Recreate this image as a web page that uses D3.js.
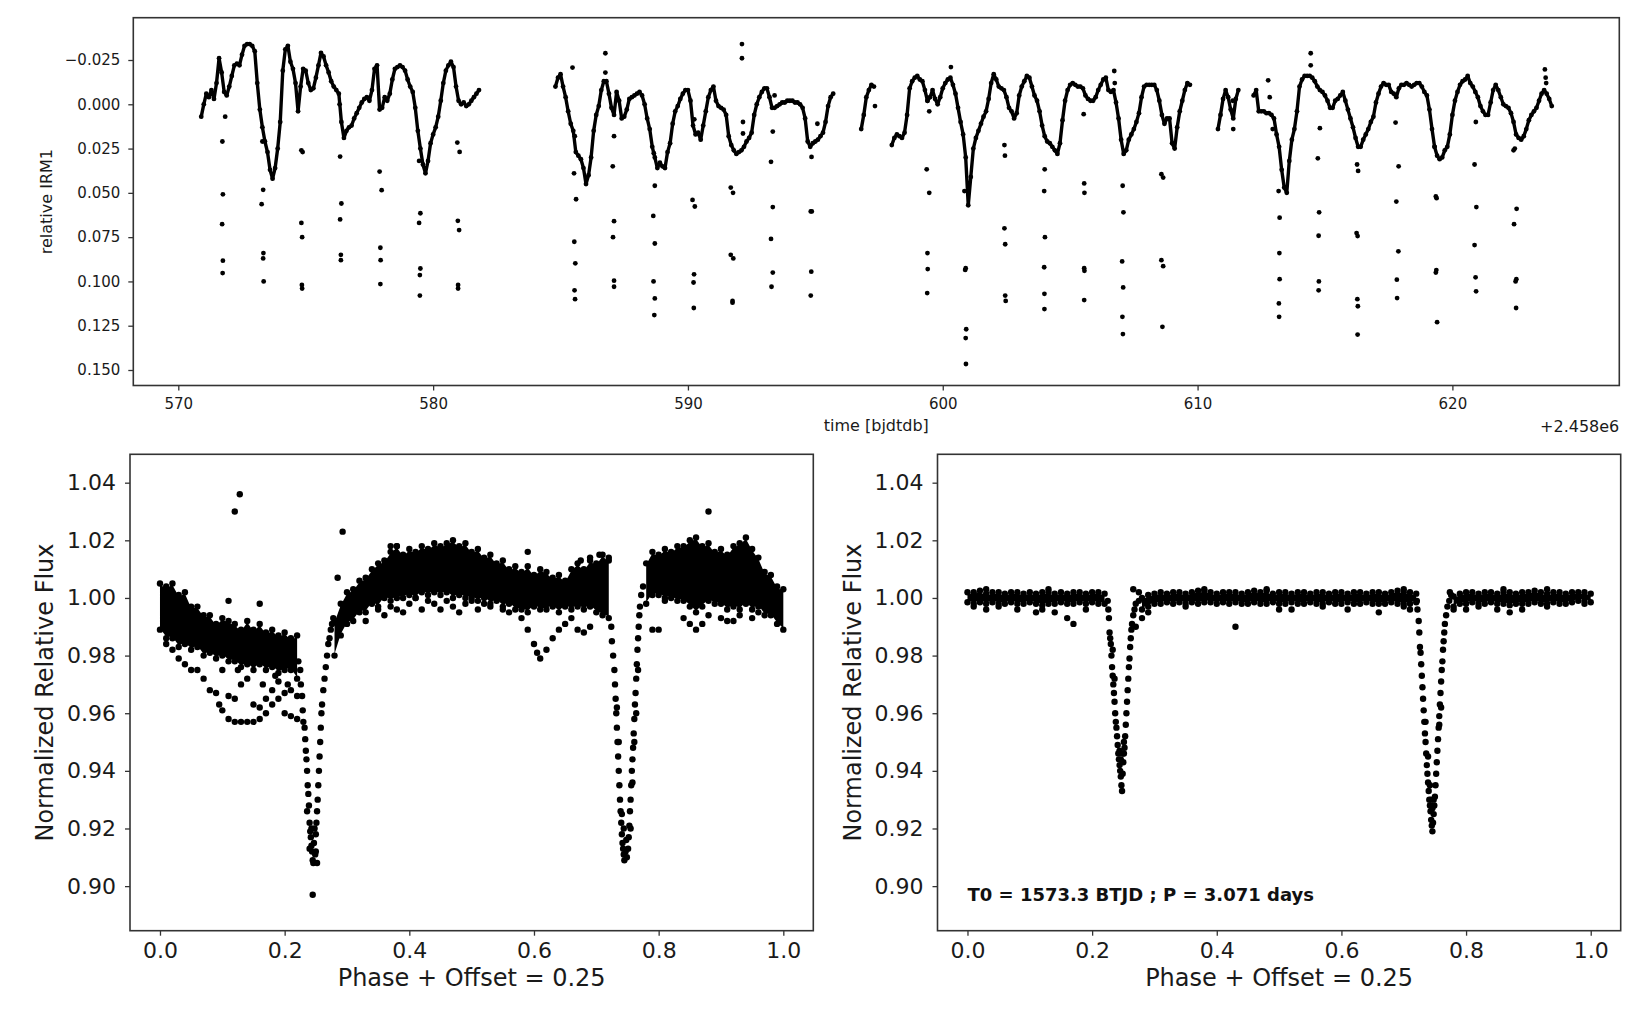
<!DOCTYPE html>
<html><head><meta charset="utf-8">
<script src="https://cdn.jsdelivr.net/npm/d3@7"></script>
<style>body{margin:0;background:#fff}svg{display:block}</style>
</head><body><svg id="c" width="1648" height="1020"></svg>
<script>
// ---------------- DATA ----------------
// Top panel: relative IRM1 vs time (bjdtdb - 2458000), read every 0.1 d per observing segment
const timeOffsetLabel = "+2.458e6";
const topXTicks = [570, 580, 590, 600, 610, 620];
const topYTicks = [-0.025, 0, 0.025, 0.05, 0.075, 0.1, 0.125, 0.15];
const cadence = 0.1;
const segStarts = [570.9, 584.8, 596.8, 598.0, 610.8, 612.2];
const segA = [0.007,0.000,-0.006,-0.004,-0.008,-0.003,-0.012,-0.026,-0.018,-0.007,
 -0.005,-0.010,-0.016,-0.022,-0.023,-0.022,-0.028,-0.033,-0.034,-0.034,
 -0.033,-0.030,-0.012,0.003,0.013,0.021,0.027,0.037,0.042,0.036,
 0.025,0.010,-0.019,-0.031,-0.033,-0.024,-0.020,-0.012,0.004,-0.010,
 -0.020,-0.019,-0.012,-0.008,-0.009,-0.015,-0.022,-0.029,-0.027,-0.022,
 -0.018,-0.013,-0.010,-0.008,-0.006,0.010,0.019,0.015,0.013,0.012,
 0.008,0.005,0.002,-0.001,-0.003,-0.004,-0.002,-0.008,-0.020,-0.022,
 0.003,0.002,-0.004,-0.002,-0.006,-0.014,-0.020,-0.021,-0.022,-0.021,
 -0.019,-0.014,-0.010,-0.007,0.002,0.015,0.025,0.034,0.039,0.032,
 0.022,0.017,0.013,0.007,-0.002,-0.012,-0.019,-0.022,-0.024,-0.021,
 -0.010,-0.002,0.000,-0.001,0.001,0.000,-0.002,-0.004,-0.006,-0.008];
const segB = [-0.010,-0.015,-0.017,-0.010,-0.004,0.004,0.011,0.015,0.027,0.029,
 0.031,0.036,0.045,0.040,0.030,0.015,0.006,0.001,-0.008,-0.013,
 -0.013,-0.006,0.002,0.006,-0.007,-0.002,0.008,0.007,0.003,-0.003,
 -0.004,-0.005,-0.006,-0.007,-0.005,0.000,0.008,0.014,0.024,0.030,
 0.036,0.033,0.035,0.036,0.027,0.022,0.011,0.004,0.001,-0.003,
 -0.006,-0.008,-0.008,-0.002,0.012,0.017,0.016,0.020,0.012,0.004,
 -0.004,-0.008,-0.010,-0.002,0.001,0.002,0.003,0.006,0.018,0.023,
 0.026,0.028,0.027,0.026,0.024,0.021,0.019,0.016,0.006,0.000,
 -0.004,-0.007,-0.009,-0.009,-0.004,0.002,0.002,0.001,0.000,-0.001,
 -0.001,-0.002,-0.002,-0.002,-0.001,-0.001,0.000,0.002,0.008,0.021,
 0.024,0.022,0.021,0.020,0.018,0.016,0.010,0.001,-0.004,-0.006];
const segC = [0.014,0.006,-0.004,-0.008,-0.011,-0.010];
const segD = [0.023,0.019,0.017,0.018,0.019,0.016,0.006,-0.009,-0.013,-0.015,
 -0.016,-0.014,-0.013,-0.008,-0.002,-0.004,-0.008,-0.003,0.000,-0.004,
 -0.009,-0.012,-0.014,-0.015,-0.011,-0.006,0.002,0.010,0.017,0.030,
 0.057,0.041,0.025,0.019,0.015,0.011,0.007,0.004,-0.003,-0.012,
 -0.017,-0.014,-0.010,-0.009,-0.008,-0.004,0.002,0.004,0.008,0.005,
 -0.005,-0.010,-0.013,-0.016,-0.015,-0.010,-0.005,-0.002,0.004,0.012,
 0.018,0.021,0.022,0.024,0.026,0.028,0.022,0.009,-0.002,-0.008,
 -0.011,-0.012,-0.011,-0.010,-0.010,-0.009,-0.005,-0.003,-0.002,-0.002,
 -0.004,-0.008,-0.011,-0.014,-0.015,-0.008,-0.007,-0.008,-0.001,0.008,
 0.020,0.028,0.026,0.020,0.017,0.014,0.010,0.005,-0.004,-0.010,
 -0.011,-0.011,-0.011,-0.011,-0.008,-0.002,0.006,0.011,0.008,0.008,
 0.022,0.025,0.013,0.004,-0.002,-0.008,-0.012,-0.011];
const segE = [0.014,0.006,-0.003,-0.008,-0.004,0.003,0.008,-0.003,-0.008];
const segF = [-0.005,-0.008,0.004,0.004,0.004,0.005,0.005,0.006,0.008,0.017,
 0.024,0.037,0.047,0.050,0.032,0.020,0.014,0.004,-0.010,-0.014,
 -0.016,-0.016,-0.016,-0.015,-0.013,-0.010,-0.008,-0.007,-0.005,-0.002,
 0.002,0.002,-0.002,-0.003,-0.005,-0.007,-0.002,0.003,0.008,0.013,
 0.019,0.024,0.024,0.020,0.017,0.014,0.010,0.007,-0.001,-0.006,
 -0.010,-0.012,-0.011,-0.011,-0.007,-0.006,-0.004,-0.009,-0.011,-0.011,
 -0.012,-0.011,-0.010,-0.011,-0.012,-0.012,-0.010,-0.007,-0.005,0.003,
 0.014,0.024,0.029,0.031,0.030,0.026,0.024,0.017,0.006,-0.002,
 -0.007,-0.011,-0.013,-0.014,-0.016,-0.012,-0.010,-0.007,-0.004,0.001,
 0.004,0.006,0.006,-0.001,-0.008,-0.011,-0.008,-0.004,0.000,0.001,
 0.002,0.005,0.010,0.017,0.019,0.020,0.018,0.014,0.009,0.006,
 0.004,0.002,-0.002,-0.006,-0.008,-0.006,-0.003,0.001];
const topOutliers = [
 [571.73,0.021],[571.75,0.0508],[571.72,0.0677],[571.75,0.0883],[571.74,0.0953],[571.84,0.007],
 [573.30,0.021],[573.33,0.0483],[573.27,0.0564],[573.34,0.084],[573.33,0.087],[573.35,0.100],
 [574.83,0.026],[574.88,0.027],[574.83,0.067],[574.86,0.075],[574.85,0.102],[574.86,0.104],
 [576.35,0.0295],[576.40,0.056],[576.35,0.065],[576.38,0.085],[576.38,0.088],[576.33,0.000],
 [577.90,0.038],[577.98,0.0485],[577.93,0.081],[577.94,0.088],[577.93,0.1015],
 [579.45,0.032],[579.50,0.0615],[579.45,0.067],[579.50,0.0927],[579.48,0.0964],[579.48,0.108],
 [580.95,0.0216],[581.04,0.0269],[580.97,0.0658],[581.02,0.071],[580.98,0.102],[580.98,0.104],
 [585.47,-0.0207],[585.56,0.018],[585.53,0.039],[585.61,0.0536],[585.54,0.0776],[585.58,0.0898],[585.55,0.105],[585.57,0.110],
 [586.76,-0.0288],[586.76,-0.0179],
 [587.10,0.018],[587.05,0.035],[587.10,0.066],[587.06,0.075],[587.10,0.0996],[587.10,0.103],
 [588.66,0.0276],[588.70,0.046],[588.64,0.063],[588.70,0.0786],[588.65,0.100],[588.70,0.1096],[588.68,0.119],
 [590.25,0.0085],[590.18,0.054],[590.27,0.0577],[590.24,0.096],[590.22,0.1006],[590.23,0.115],
 [591.68,0.047],[591.77,0.050],[591.68,0.085],[591.78,0.087],[591.75,0.111],[591.75,0.112],
 [592.12,-0.034],[592.12,-0.026],[592.16,0.010],[592.16,0.0165],
 [593.33,0.0154],[593.26,0.0325],[593.33,0.058],[593.26,0.076],[593.33,0.095],[593.28,0.103],[593.40,-0.005],
 [595.08,0.011],[594.85,0.0297],[594.82,0.0605],[594.86,0.0605],[594.84,0.0945],[594.82,0.108],
 [597.34,0.001],
 [599.40,-0.002],[599.47,0.004],[599.37,0.0367],[599.47,0.050],[599.40,0.084],[599.41,0.093],[599.39,0.1066],
 [600.32,-0.021],
 [600.85,0.049],[600.90,0.0925],[600.88,0.0935],[600.92,0.127],[600.90,0.132],[600.91,0.1466],
 [602.42,0.023],[602.44,0.029],[602.42,0.070],[602.45,0.079],[602.45,0.108],[602.47,0.111],
 [604.00,0.0367],[603.98,0.049],[604.01,0.075],[603.98,0.092],[603.99,0.107],[603.99,0.1156],
 [605.55,0.0447],[605.56,0.050],[605.55,0.0925],[605.56,0.094],[605.55,0.1105],[605.53,0.0056],
 [606.73,-0.0188],[606.75,-0.012],
 [607.06,0.046],[607.09,0.061],[607.04,0.0887],[607.08,0.1034],[607.05,0.120],[607.07,0.1297],
 [608.58,0.0395],[608.65,0.0414],[608.58,0.088],[608.65,0.0914],[608.62,0.1256],
 [611.40,0.014],[611.38,-0.002],
 [612.77,-0.0135],[612.83,-0.004],[612.95,0.014],
 [613.18,0.049],[613.22,0.064],[613.21,0.084],[613.22,0.0987],[613.19,0.1124],[613.20,0.120],
 [614.44,-0.0288],[614.44,-0.022],
 [614.80,0.0135],[614.72,0.0305],[614.77,0.061],[614.75,0.0742],[614.76,0.100],[614.75,0.105],
 [616.26,0.034],[616.30,0.0376],[616.24,0.0727],[616.28,0.0744],[616.27,0.110],[616.29,0.114],[616.28,0.130],
 [617.77,0.0103],[617.89,0.035],[617.80,0.0549],[617.88,0.083],[617.82,0.099],[617.83,0.1094],
 [619.30,0.024],[619.38,0.053],[619.35,0.052],[619.37,0.0936],[619.35,0.0950],[619.40,0.123],
 [620.92,0.010],[620.87,0.034],[620.94,0.058],[620.87,0.0795],[620.91,0.0977],[620.93,0.1056],
 [622.40,0.026],[622.45,0.025],[622.52,0.059],[622.42,0.0677],[622.51,0.0987],[622.48,0.100],[622.50,0.115],
 [623.63,-0.0197],[623.66,-0.015],[623.68,-0.012]
];

// Bottom panels: phase-folded flux; dense band edges read every 0.01 in phase
const phaseTicks = [0, 0.2, 0.4, 0.6, 0.8, 1.0];
const fluxTicks = [0.90, 0.92, 0.94, 0.96, 0.98, 1.00, 1.02, 1.04];
const phaseStep = 0.01;
const bandStarts = [0.00, 0.28, 0.78];
const blTop1 = [1.005,1.004,1.005,1.001,1.002,0.997,0.997,0.994,0.994,0.991,0.993,0.992,0.991,0.989,0.992,0.989,0.991,0.988,0.989,0.987,0.988,0.986,0.987];
const blBot1 = [0.989,0.986,0.986,0.983,0.984,0.982,0.983,0.980,0.981,0.979,0.980,0.978,0.978,0.976,0.977,0.975,0.977,0.975,0.976,0.974,0.975,0.975,0.972];
const blTop2 = [0.992,0.998,1.002,1.003,1.006,1.007,1.010,1.012,1.013,1.016,
 1.018,1.015,1.017,1.016,1.018,1.017,1.019,1.018,1.019,1.020,
 1.018,1.019,1.016,1.017,1.014,1.015,1.012,1.013,1.010,1.011,
 1.009,1.011,1.008,1.010,1.009,1.007,1.008,1.006,1.010,1.012,
 1.010,1.013,1.012,1.015,1.013];
const blBot2 = [0.980,0.987,0.991,0.992,0.995,0.995,0.998,0.997,1.000,0.999,
 1.000,1.000,1.001,1.000,1.002,1.001,1.002,1.001,1.002,1.000,
 1.001,1.000,1.000,0.999,1.000,0.998,0.999,0.997,0.998,0.996,
 0.996,0.995,0.997,0.996,0.996,0.997,0.995,0.997,0.996,0.997,
 0.996,0.997,0.995,0.994,0.993];
const blTop3 = [1.012,1.016,1.015,1.017,1.016,1.018,1.018,1.020,1.021,1.018,1.019,1.016,1.017,1.015,1.018,1.019,1.021,1.017,1.014,1.009,1.008,1.004,1.003];
const blBot3 = [0.998,1.001,1.001,1.000,1.000,0.999,0.999,0.997,0.995,0.997,0.999,0.998,0.998,0.996,0.997,0.996,0.998,0.996,0.997,0.994,0.994,0.991,0.989];
const blSparse = [
 [0.01,0.984],[0.02,0.982],[0.03,0.979],[0.04,0.977],[0.05,0.975],[0.06,0.975],[0.07,0.972],[0.08,0.968],[0.09,0.967],[0.095,0.963],
 [0.10,0.961],[0.11,0.958],[0.12,0.957],[0.13,0.957],[0.14,0.957],[0.15,0.957],[0.16,0.958],[0.17,0.960],[0.18,0.963],[0.19,0.965],
 [0.20,0.967],[0.21,0.968],[0.22,0.966],
 [0.10,0.975],[0.11,0.966],[0.12,0.965],[0.13,0.970],[0.14,0.972],[0.15,0.963],[0.16,0.962],[0.17,0.965],[0.18,0.968],[0.19,0.971],
 [0.20,0.960],[0.21,0.959],[0.22,0.958],[0.125,0.975],[0.145,0.978],[0.165,0.970],[0.185,0.973],[0.205,0.970],
 [0.12,1.030],[0.128,1.036],[0.11,0.999],[0.16,0.998],[0.293,1.023],[0.59,1.016],[0.88,1.030],[0.245,0.897],[0.285,1.007],
 [0.58,0.993],[0.59,0.989],[0.60,0.984],[0.605,0.981],[0.61,0.979],[0.62,0.982],[0.63,0.986],[0.64,0.989],[0.65,0.991],[0.66,0.993],
 [0.67,0.989],[0.68,0.988],[0.69,0.990],
 [0.33,0.992],[0.36,0.994],[0.39,0.995],[0.42,0.996],[0.45,0.996],[0.48,0.995],[0.51,0.996],
 [0.37,0.997],[0.40,0.998],[0.43,0.999],[0.46,0.999],[0.49,0.998],[0.52,0.998],[0.55,0.996],[0.41,1.000],[0.44,0.998],[0.47,0.997],
 [0.50,0.999],[0.53,0.997],[0.56,0.995],[0.35,0.996],[0.38,0.996],
 [0.84,0.993],[0.85,0.991],[0.86,0.989],[0.87,0.991],[0.88,0.994],[0.90,0.993],[0.91,0.992],[0.92,0.992],[0.93,0.994],[0.95,0.993],
 [0.96,0.995],[0.81,0.999],[0.79,0.989],[0.80,0.989],
 [0.675,1.013],[0.69,1.014],[0.705,1.015],[0.72,1.014],[0.37,1.018],[0.38,1.018],
 // primary eclipse
 [0.222,0.978],[0.225,0.975],[0.226,0.970],[0.228,0.966],[0.229,0.961],[0.230,0.957],[0.232,0.955],[0.233,0.951],[0.234,0.947],[0.235,0.944],
 [0.236,0.940],[0.237,0.935],[0.238,0.932],[0.239,0.928],[0.240,0.922],[0.241,0.919],[0.242,0.917],[0.243,0.914],[0.244,0.912],[0.245,0.909],
 [0.247,0.915],[0.248,0.920],[0.249,0.911],[0.250,0.918],[0.251,0.922],[0.252,0.926],[0.253,0.930],[0.254,0.935],[0.255,0.940],[0.256,0.945],
 [0.257,0.950],[0.258,0.955],[0.259,0.960],[0.260,0.963],[0.262,0.968],[0.264,0.972],[0.266,0.976],[0.268,0.980],[0.270,0.984],[0.272,0.986],
 [0.274,0.989],[0.276,0.991],[0.278,0.993],[0.236,0.926],[0.240,0.913],[0.246,0.908],[0.252,0.908],[0.243,0.920],[0.250,0.912],
 // secondary eclipse
 [0.724,0.990],[0.725,0.985],[0.727,0.980],[0.729,0.975],[0.730,0.970],[0.731,0.965],[0.732,0.960],[0.733,0.955],[0.734,0.950],[0.735,0.945],
 [0.736,0.940],[0.737,0.935],[0.738,0.930],[0.739,0.926],[0.740,0.922],[0.741,0.918],[0.742,0.915],[0.743,0.913],[0.744,0.911],[0.745,0.909],
 [0.747,0.912],[0.749,0.910],[0.751,0.913],[0.752,0.917],[0.753,0.921],[0.754,0.926],[0.755,0.930],[0.756,0.935],[0.757,0.940],[0.758,0.944],
 [0.759,0.948],[0.760,0.953],[0.761,0.958],[0.762,0.963],[0.763,0.967],[0.764,0.972],[0.765,0.977],[0.766,0.982],[0.767,0.986],[0.768,0.990],
 [0.769,0.994],[0.770,0.997],[0.772,1.001],[0.775,1.004],
 [0.733,0.962],[0.736,0.950],[0.741,0.925],[0.744,0.920],[0.748,0.916],[0.755,0.920],[0.758,0.936],[0.761,0.950],[0.764,0.960],[0.767,0.975]
];
const brTop1 = [1.002,1.002,1.0025,1.0015,1.002,1.002,1.0015,1.002,1.002,1.0015,1.002,1.0015,1.002,1.002,1.0015,1.002,1.0015,1.002,1.002,1.0015,1.002,1.002,1.0015];
const brBot1 = [0.9985,0.998,0.9985,0.998,0.9985,0.998,0.998,0.9985,0.998,0.998,0.9985,0.998,0.9975,0.998,0.998,0.9985,0.998,0.998,0.9985,0.998,0.9985,0.998,0.998];
const brTop2 = [1.000,1.001,1.0015,1.002,1.0015,1.002,1.002,1.0015,1.002,1.0025,
 1.0025,1.002,1.0015,1.002,1.002,1.002,1.0015,1.002,1.0025,1.002,
 1.0025,1.0015,1.002,1.002,1.0015,1.002,1.002,1.0015,1.002,1.002,
 1.0015,1.002,1.002,1.0015,1.002,1.002,1.0015,1.002,1.002,1.0015,
 1.002,1.0025,1.002,1.002,1.0015];
const brBot2 = [0.996,0.997,0.998,0.998,0.9985,0.998,0.9985,0.998,0.9985,0.998,
 0.9985,0.9985,0.998,0.9985,0.998,0.9985,0.998,0.998,0.9985,0.998,
 0.998,0.9985,0.998,0.998,0.9985,0.998,0.998,0.9985,0.998,0.998,
 0.9985,0.998,0.998,0.9985,0.998,0.998,0.9985,0.998,0.998,0.998,
 0.9985,0.998,0.998,0.998,0.9985];
const brTop3 = [1.0005,1.0015,1.002,1.002,1.0015,1.002,1.002,1.0015,1.002,1.002,1.0015,1.002,1.002,1.0025,1.002,1.0015,1.002,1.002,1.0015,1.002,1.002,1.002,1.0015];
const brBot3 = [0.997,0.998,0.998,0.9985,0.998,0.998,0.9985,0.998,0.998,0.9975,0.998,0.998,0.998,0.9985,0.998,0.998,0.9985,0.998,0.998,0.9985,0.999,0.999,0.9985];
const brSparse = [
 [0.01,0.997],[0.03,0.996],[0.05,0.997],[0.08,0.996],[0.11,0.995],[0.12,0.996],[0.14,0.995],[0.16,0.993],[0.17,0.991],[0.19,0.996],
 [0.43,0.990],[0.29,0.995],[0.28,0.993],[0.27,0.990],[0.35,0.997],[0.50,0.996],[0.52,0.996],[0.57,0.997],[0.61,0.996],[0.66,0.995],
 [0.70,0.997],[0.71,0.996],[0.78,0.996],[0.80,0.996],[0.82,0.997],[0.85,0.996],[0.87,0.995],[0.89,0.996],[0.93,0.997],[0.99,0.998],
 [0.03,1.003],[0.13,1.003],[0.38,1.003],[0.48,1.003],[0.70,1.003],[0.86,1.003],[0.93,1.003],
 [0.275,0.999],[0.275,1.002],[0.773,0.999],[0.776,1.001],[0.774,1.002],
 [0.225,0.999],[0.226,0.996],[0.227,0.993],[0.228,0.988],[0.229,0.986],[0.230,0.984],[0.231,0.980],[0.232,0.976],[0.233,0.973],[0.234,0.970],
 [0.235,0.967],[0.236,0.964],[0.237,0.960],[0.238,0.957],[0.239,0.955],[0.240,0.952],[0.241,0.949],[0.242,0.946],[0.243,0.944],[0.244,0.942],
 [0.245,0.940],[0.246,0.938],[0.247,0.935],[0.248,0.933],[0.249,0.939],[0.250,0.943],[0.251,0.946],[0.252,0.948],[0.253,0.952],[0.254,0.956],
 [0.255,0.960],[0.256,0.964],[0.257,0.968],[0.258,0.972],[0.259,0.976],[0.260,0.979],[0.261,0.983],[0.262,0.986],[0.263,0.989],[0.264,0.991],
 [0.266,0.994],[0.268,0.996],[0.270,0.998],[0.266,1.003],[0.244,0.947],[0.246,0.944],[0.249,0.946],[0.251,0.950],[0.236,0.972],[0.233,0.982],
 [0.721,0.999],[0.722,0.996],[0.724,0.992],[0.725,0.988],[0.726,0.983],[0.727,0.981],[0.728,0.977],[0.729,0.973],[0.730,0.969],[0.731,0.965],
 [0.732,0.961],[0.733,0.957],[0.734,0.953],[0.735,0.950],[0.736,0.946],[0.737,0.942],[0.738,0.939],[0.739,0.936],[0.740,0.933],[0.741,0.930],
 [0.742,0.928],[0.743,0.926],[0.744,0.923],[0.745,0.921],[0.746,0.919],[0.747,0.922],[0.748,0.925],[0.749,0.928],[0.750,0.931],[0.751,0.935],
 [0.752,0.939],[0.753,0.943],[0.754,0.947],[0.755,0.951],[0.756,0.955],[0.757,0.959],[0.758,0.963],[0.759,0.967],[0.760,0.971],[0.761,0.975],
 [0.762,0.978],[0.763,0.982],[0.764,0.985],[0.765,0.988],[0.766,0.991],[0.768,0.994],[0.770,0.997],
 [0.742,0.935],[0.744,0.930],[0.746,0.927],[0.748,0.930],[0.735,0.957],[0.739,0.945],[0.757,0.956],[0.760,0.962]
];
const annotation = "T0 = 1573.3 BTJD ; P = 3.071 days";
const annotationPos = [0.0, 0.8949];

// ---------------- DRAW ----------------
const svg = d3.select("#c");
const FONT = "'DejaVu Sans', sans-serif";
const SPINE = "#333";

function styleAxis(g, size) {
  g.select(".domain").remove();
  g.selectAll("text").attr("font-size", size).attr("font-family", FONT).attr("fill", "#1a1a1a");
  g.selectAll(".tick line").attr("stroke", SPINE).attr("stroke-width", 1.3);
}
function spine(L, R, T, B, w) {
  svg.append("rect").attr("x", L).attr("y", T).attr("width", R - L).attr("height", B - T)
    .attr("fill", "none").attr("stroke", SPINE).attr("stroke-width", w);
}

// ---- Top panel ----
const tL = 133.3, tR = 1619.3, tT = 17.7, tB = 385.5;
const xT = d3.scaleLinear().domain([568.234, 626.55]).range([tL, tR]);
const yT = d3.scaleLinear().domain([-0.04888, 0.15875]).range([tT, tB]);
const segs = [segA, segB, segC, segD, segE, segF];
const segPts = segs.map((vals, k) => vals.map((v, i) => [segStarts[k] + i * cadence, v]));
// dense cadence: the consecutive exposures merge into a continuous trail
const trail = d3.line().x(d => xT(d[0])).y(d => yT(d[1]));
svg.append("g").selectAll("path").data(segPts).join("path")
  .attr("d", trail).attr("fill", "none").attr("stroke", "#000").attr("stroke-width", 3.4)
  .attr("stroke-linejoin", "round").attr("stroke-linecap", "round");
const topPts = segPts.flat().concat(topOutliers);
svg.append("g").selectAll("circle").data(topPts).join("circle")
  .attr("cx", d => xT(d[0])).attr("cy", d => yT(d[1])).attr("r", 2.4).attr("fill", "#000");
svg.append("g").attr("transform", `translate(0,${tB})`)
  .call(d3.axisBottom(xT).tickValues(topXTicks).tickFormat(d3.format("d")).tickSize(5).tickPadding(7.5).tickSizeOuter(0))
  .call(g => styleAxis(g, 15));
svg.append("g").attr("transform", `translate(${tL},0)`)
  .call(d3.axisLeft(yT).tickValues(topYTicks).tickFormat(d3.format(".3f")).tickSize(5).tickPadding(8).tickSizeOuter(0))
  .call(g => styleAxis(g, 15));
spine(tL, tR, tT, tB, 1.6);
svg.append("text").attr("transform", `translate(51.5,${(tT + tB) / 2}) rotate(-90)`)
  .attr("text-anchor", "middle").attr("font-family", FONT).attr("font-size", 16).attr("fill", "#1a1a1a").text("relative IRM1");
svg.append("text").attr("x", (tL + tR) / 2).attr("y", 431).attr("text-anchor", "middle")
  .attr("font-family", FONT).attr("font-size", 16).attr("fill", "#1a1a1a").text("time [bjdtdb]");
svg.append("text").attr("x", tR).attr("y", 431.7).attr("text-anchor", "end")
  .attr("font-family", FONT).attr("font-size", 16).attr("fill", "#1a1a1a").text(timeOffsetLabel);

// ---- Phase panels ----
function phasePanel(L, R, bands, sparse, note) {
  const T = 454.3, B = 930.7;
  const x = d3.scaleLinear().domain([-0.0481, 1.0481]).range([L, R]);
  const y = d3.scaleLinear().domain([0.88453, 1.04985]).range([B, T]);
  const g = svg.append("g");
  const area = d3.area().x(d => x(d.p)).y0(d => y(d.bot) - 1.5).y1(d => y(d.top) + 1.5);
  const dots = [];
  bands.forEach(b => {
    const pts = b.top.map((v, i) => ({ p: b.start + i * phaseStep, top: v, bot: b.bot[i] }));
    g.append("path").datum(pts).attr("d", area).attr("fill", "#000");
    pts.forEach(d => { dots.push([d.p, d.top]); dots.push([d.p, d.bot]); });
  });
  sparse.forEach(p => dots.push(p));
  g.selectAll("circle").data(dots).join("circle")
    .attr("cx", d => x(d[0])).attr("cy", d => y(d[1])).attr("r", 3.2).attr("fill", "#000");
  svg.append("g").attr("transform", `translate(0,${B})`)
    .call(d3.axisBottom(x).tickValues(phaseTicks).tickFormat(d3.format(".1f")).tickSize(5).tickPadding(6.4).tickSizeOuter(0))
    .call(gg => styleAxis(gg, 22));
  svg.append("g").attr("transform", `translate(${L},0)`)
    .call(d3.axisLeft(y).tickValues(fluxTicks).tickFormat(d3.format(".2f")).tickSize(5).tickPadding(9).tickSizeOuter(0))
    .call(gg => styleAxis(gg, 22));
  spine(L, R, T, B, 1.6);
  svg.append("text").attr("transform", `translate(${L - 77},${(T + B) / 2}) rotate(-90)`)
    .attr("text-anchor", "middle").attr("font-family", FONT).attr("font-size", 24).attr("fill", "#1a1a1a")
    .text("Normalized Relative Flux");
  svg.append("text").attr("x", (L + R) / 2).attr("y", 986).attr("text-anchor", "middle")
    .attr("font-family", FONT).attr("font-size", 24).attr("fill", "#1a1a1a").text("Phase + Offset = 0.25");
  if (note) {
    svg.append("text").attr("x", x(annotationPos[0])).attr("y", y(annotationPos[1]))
      .attr("font-family", FONT).attr("font-size", 18).attr("font-weight", "bold").attr("fill", "#111").text(note);
  }
}
phasePanel(130, 813.3, [
  { start: bandStarts[0], top: blTop1, bot: blBot1 },
  { start: bandStarts[1], top: blTop2, bot: blBot2 },
  { start: bandStarts[2], top: blTop3, bot: blBot3 }], blSparse, null);
phasePanel(937.5, 1620.7, [
  { start: bandStarts[0], top: brTop1, bot: brBot1 },
  { start: bandStarts[1], top: brTop2, bot: brBot2 },
  { start: bandStarts[2], top: brTop3, bot: brBot3 }], brSparse, annotation);
</script></body></html>
